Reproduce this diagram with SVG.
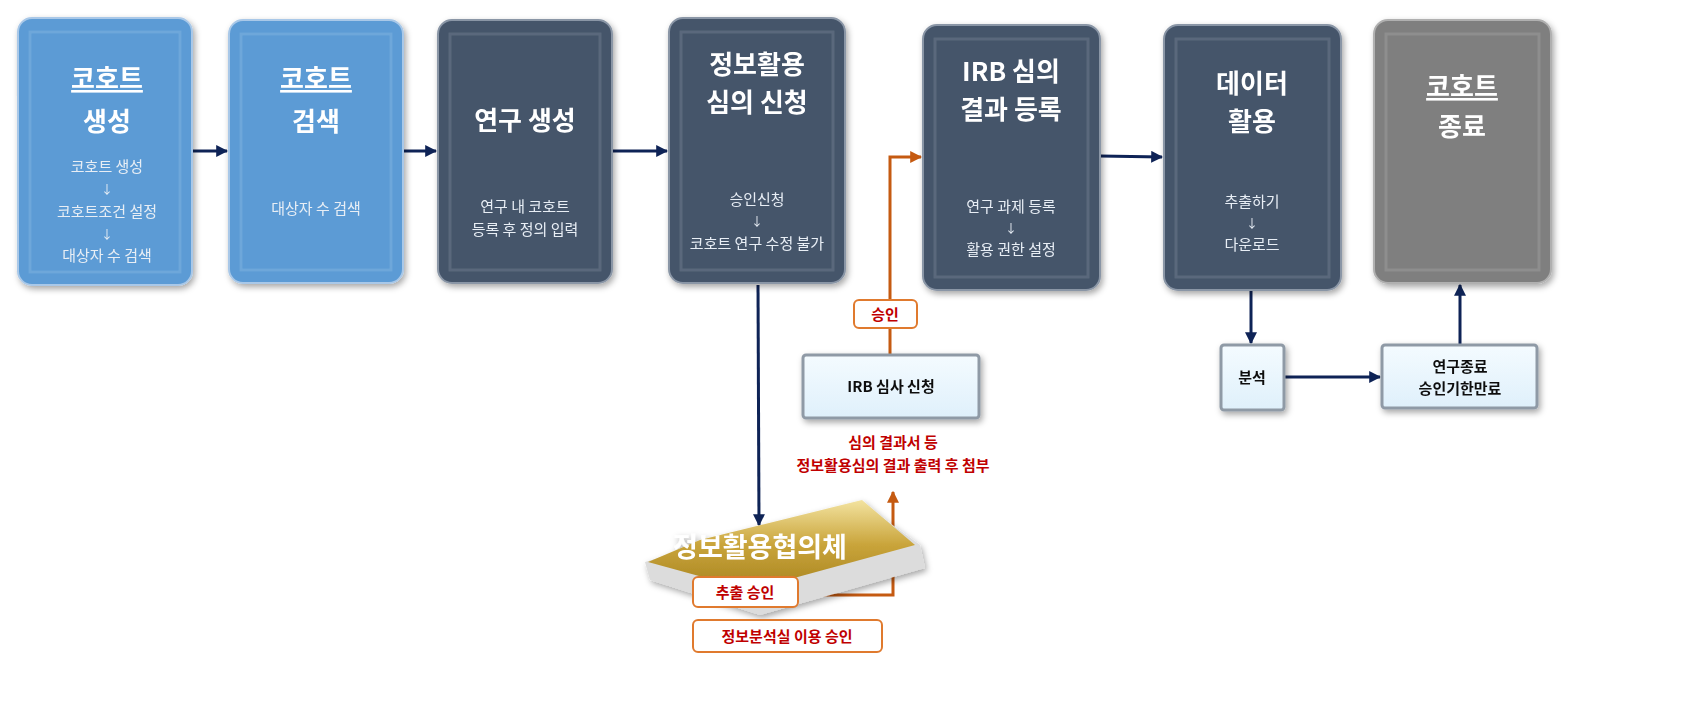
<svg xmlns="http://www.w3.org/2000/svg" width="1691" height="727" viewBox="0 0 1691 727">
<defs>
<linearGradient id="gold" x1="0" y1="0" x2="0" y2="1"><stop offset="0" stop-color="#f3e3a0"/><stop offset="0.5" stop-color="#c9a43a"/><stop offset="1" stop-color="#a88420"/></linearGradient>
<linearGradient id="pale" x1="0" y1="0" x2="0" y2="1"><stop offset="0" stop-color="#f4fbff"/><stop offset="1" stop-color="#dff0fb"/></linearGradient>
<marker id="an" viewBox="0 0 10 10" refX="9" refY="5" markerWidth="4" markerHeight="4" orient="auto"><path d="M0,0L10,5L0,10z" fill="#0e2356"/></marker>
<marker id="ao" viewBox="0 0 10 10" refX="9" refY="5" markerWidth="4" markerHeight="4" orient="auto"><path d="M0,0L10,5L0,10z" fill="#c55a11"/></marker>
<filter id="sh" x="-10%" y="-10%" width="130%" height="130%"><feDropShadow dx="2" dy="3" stdDeviation="3" flood-opacity="0.35"/></filter>
</defs>
<style>
text{font-family:"Noto Sans CJK KR","Noto Sans",sans-serif;text-anchor:middle}
.t{font-size:26px;font-weight:bold;fill:#fff}
.s{font-size:15px;fill:#e8eef5}
.ar{font-size:12px;fill:#e8eef5}
.blue{fill:#5b9bd5;stroke:#a9c8e8;stroke-width:2}
.dark{fill:#44546a;stroke:#8a96a6;stroke-width:2}
.gray{fill:#7f7f7f;stroke:#b0b0b0;stroke-width:2}
.bev{fill:none;stroke:#ffffff;stroke-opacity:0.12;stroke-width:3}
.lab{fill:#fff;stroke:#e07a2e;stroke-width:2}
.red{font-size:15px;font-weight:bold;fill:#c00000}
.pb{fill:url(#pale);stroke:#8f9aa6;stroke-width:3}
.bk{font-size:15px;font-weight:bold;fill:#111}
.cn{stroke:#0e2356;stroke-width:3;fill:none}
.co{stroke:#c55a11;stroke-width:3;fill:none}
</style>
<g id="connectors">
<line class="cn" x1="192" y1="151" x2="227" y2="151" marker-end="url(#an)"/>
<line class="cn" x1="403" y1="151" x2="436" y2="151" marker-end="url(#an)"/>
<line class="cn" x1="612" y1="151" x2="667" y2="151" marker-end="url(#an)"/>
<line class="cn" x1="1100" y1="156" x2="1162" y2="157" marker-end="url(#an)"/>
<line class="cn" x1="758" y1="285" x2="759" y2="525" marker-end="url(#an)"/>
<polyline class="co" points="890,355 890,157 921,157" marker-end="url(#ao)"/>
<polyline class="co" points="798,595 893,595 893,492" marker-end="url(#ao)"/>
<line class="cn" x1="1251" y1="290" x2="1251" y2="343" marker-end="url(#an)"/>
<line class="cn" x1="1284" y1="377" x2="1380" y2="377" marker-end="url(#an)"/>
<line class="cn" x1="1460" y1="345" x2="1460" y2="285" marker-end="url(#an)"/>
</g>
<g id="n1" filter="url(#sh)"><rect class="blue" x="18" y="18" width="174" height="267" rx="14"/><rect class="bev" x="30" y="32" width="150" height="240"/>
<text class="t" x="107" y="88" text-decoration="underline">코호트</text><text class="t" x="107" y="131">생성</text>
<text class="s" x="107" y="172">코호트 생성</text><text class="ar" x="107" y="194">↓</text><text class="s" x="107" y="217">코호트조건 설정</text><text class="ar" x="107" y="239">↓</text><text class="s" x="107" y="261">대상자 수 검색</text></g>
<g id="n2" filter="url(#sh)"><rect class="blue" x="229" y="20" width="174" height="263" rx="14"/><rect class="bev" x="241" y="34" width="150" height="236"/>
<text class="t" x="316" y="88" text-decoration="underline">코호트</text><text class="t" x="316" y="131">검색</text><text class="s" x="316" y="214">대상자 수 검색</text></g>
<g id="n3" filter="url(#sh)"><rect class="dark" x="438" y="20" width="174" height="263" rx="14"/><rect class="bev" x="450" y="34" width="150" height="236"/>
<text class="t" x="525" y="130">연구 생성</text><text class="s" x="525" y="212">연구 내 코호트</text><text class="s" x="525" y="235">등록 후 정의 입력</text></g>
<g id="n4" filter="url(#sh)"><rect class="dark" x="669" y="18" width="176" height="265" rx="14"/><rect class="bev" x="681" y="32" width="152" height="238"/>
<text class="t" x="757" y="74">정보활용</text><text class="t" x="757" y="112">심의 신청</text><text class="s" x="757" y="205">승인신청</text><text class="ar" x="757" y="226">↓</text><text class="s" x="757" y="249">코호트 연구 수정 불가</text></g>
<g id="n5" filter="url(#sh)"><rect class="dark" x="923" y="25" width="177" height="265" rx="14"/><rect class="bev" x="935" y="39" width="153" height="238"/>
<text class="t" x="1011" y="81">IRB 심의</text><text class="t" x="1011" y="119">결과 등록</text><text class="s" x="1011" y="212">연구 과제 등록</text><text class="ar" x="1011" y="233">↓</text><text class="s" x="1011" y="255">활용 권한 설정</text></g>
<g id="n6" filter="url(#sh)"><rect class="dark" x="1164" y="25" width="177" height="265" rx="14"/><rect class="bev" x="1176" y="39" width="153" height="238"/>
<text class="t" x="1252" y="93">데이터</text><text class="t" x="1252" y="131">활용</text><text class="s" x="1252" y="207">추출하기</text><text class="ar" x="1252" y="228">↓</text><text class="s" x="1252" y="250">다운로드</text></g>
<g id="n7" filter="url(#sh)"><rect class="gray" x="1374" y="20" width="177" height="263" rx="14"/><rect class="bev" x="1386" y="34" width="153" height="236"/>
<text class="t" x="1462" y="96" text-decoration="underline">코호트</text><text class="t" x="1462" y="136">종료</text></g>
<g id="approve"><rect class="lab" x="854" y="300" width="63" height="28" rx="5"/><text class="red" x="885" y="320">승인</text></g>
<g id="irb" filter="url(#sh)"><rect class="pb" x="803" y="355" width="176" height="63" rx="3"/><text class="bk" x="891" y="392">IRB 심사 신청</text></g>
<g id="note"><text class="red" x="893" y="448">심의 결과서 등</text><text class="red" x="893" y="471">정보활용심의 결과 출력 후 첨부</text></g>
<g id="council" filter="url(#sh)">
<path d="M700,545 L865,505 L920,545 L925,568 L760,615 L650,580 L645,562 Z" fill="#dcdcdc"/>
<path d="M700,540 L862,500 L915,545 L750,590 L648,562 Z" fill="url(#gold)"/>
<text x="760" y="557" style="font-size:27px;font-weight:bold;fill:#fff">정보활용협의체</text></g>
<g id="ex"><rect class="lab" x="693" y="577" width="105" height="30" rx="5"/><text class="red" x="745" y="598">추출 승인</text></g>
<g id="room"><rect class="lab" x="693" y="620" width="189" height="32" rx="5"/><text class="red" x="787" y="642">정보분석실 이용 승인</text></g>
<g id="ana" filter="url(#sh)"><rect class="pb" x="1221" y="345" width="63" height="65" rx="3"/><text class="bk" x="1252" y="383">분석</text></g>
<g id="end" filter="url(#sh)"><rect class="pb" x="1382" y="345" width="155" height="63" rx="3"/><text class="bk" x="1460" y="372">연구종료</text><text class="bk" x="1460" y="394">승인기한만료</text></g>
</svg>
